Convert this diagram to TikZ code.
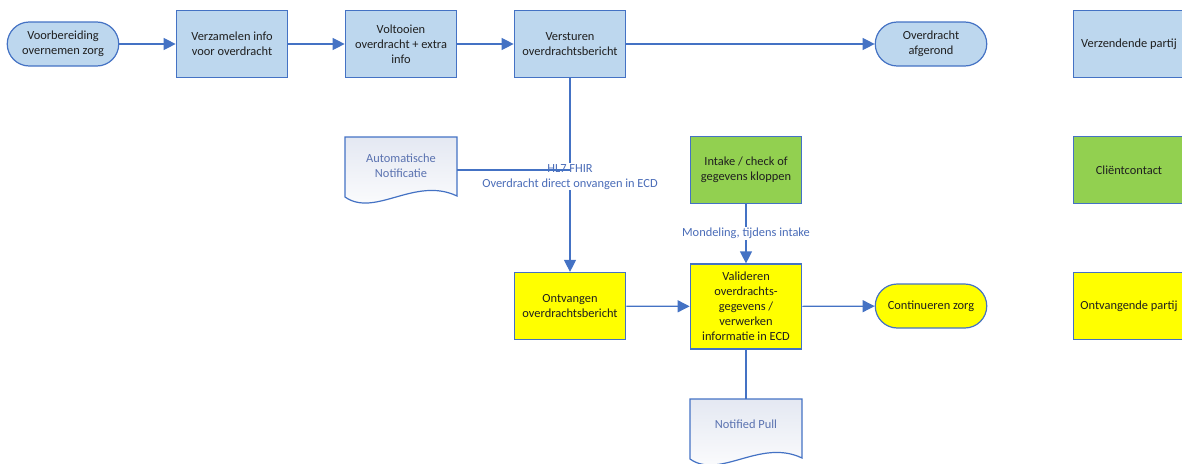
\documentclass[tikz,border=0pt]{standalone}
\usepackage{fontspec}
\setmainfont{Carlito}
\usetikzlibrary{arrows.meta,calc}
\definecolor{bfill}{HTML}{BDD7EE}
\definecolor{bline}{HTML}{4472C4}
\definecolor{gfill}{HTML}{92D050}
\definecolor{yfill}{HTML}{FFFF00}
\definecolor{txt}{HTML}{1F1F1F}
\definecolor{doctxt}{HTML}{5A72B0}
\definecolor{lbl}{HTML}{4A6CB8}
\definecolor{docgray}{HTML}{E4E8F2}
\newcommand\docpath[1]{\path[draw=bline, line width=1.2pt, top color=docgray, bottom color=white]
  ($(#1)+(-56,-29)$) -- ($(#1)+(56,-29)$) -- ($(#1)+(56,30)$)
  .. controls ($(#1)+(14,10)$) and ($(#1)+(-26,52)$) .. ($(#1)+(-56,31)$) -- cycle;}
\begin{document}
\begin{tikzpicture}[x=1pt,y=-1pt, font=\fontsize{12.4}{15}\selectfont,
  box/.style={draw=bline, line width=1.2pt, minimum width=111.5pt, minimum height=67pt, align=center, text=txt, inner sep=1pt},
  term/.style={draw=bline, line width=1.2pt, rounded corners=22pt, minimum width=111.5pt, minimum height=44pt, align=center, text=txt, inner sep=1pt},
  doc/.style={align=center, text=doctxt, inner sep=1pt},
  conn/.style={draw=bline, line width=1.2pt},
  arr/.style={conn, -{Triangle[length=12pt,width=12pt]}},
  lab/.style={text=lbl, fill=white, inner sep=1pt, align=center}]
\useasboundingbox (0,0) rectangle (1182,463);
\clip (0,0) rectangle (1182,463);
% top row
\node[term, fill=bfill] (start) at (63,44) {Voorbereiding\\overnemen zorg};
\node[box, fill=bfill] (verz) at (232,44) {Verzamelen info\\voor overdracht};
\node[box, fill=bfill] (volt) at (401,44) {Voltooien\\overdracht + extra\\info};
\node[box, fill=bfill] (verst) at (570,44) {Versturen\\overdrachtsbericht};
\node[term, fill=bfill] (afg) at (931,44) {Overdracht\\afgerond};
\node[box, fill=bfill] (zend) at (1129,44) {Verzendende partij};
% middle row
\coordinate (autoC) at (401,166);
\docpath{autoC}
\node[doc] (auto) at (autoC) {Automatische\\Notificatie};
\coordinate (autoE) at ($(autoC)+(56,4)$);
\node[box, fill=gfill] (intake) at (746,170) {Intake / check of\\gegevens kloppen};
\node[box, fill=gfill] (client) at (1129,170) {Cliëntcontact};
% bottom row
\node[box, fill=yfill] (ontv) at (570,306) {Ontvangen\\overdrachtsbericht};
\node[box, fill=yfill, minimum height=85pt] (valid) at (746,306.5) {Valideren\\overdrachts-\\gegevens /\\verwerken\\informatie in ECD};
\node[term, fill=yfill] (cont) at (931,306) {Continueren zorg};
\node[box, fill=yfill] (ontvp) at (1129,306) {Ontvangende partij};
\coordinate (npC) at (746,428);
\docpath{npC}
\node[doc] (np) at ($(npC)+(0,-4)$) {Notified Pull};
\coordinate (npT) at ($(npC)+(0,-29)$);
% connectors
\draw[arr] (start) -- (verz);
\draw[arr] (verz) -- (volt);
\draw[arr] (volt) -- (verst);
\draw[arr] (verst) -- (afg);
\draw[arr] (verst) -- node[lab, pos=0.51] {HL7 FHIR\\Overdracht direct onvangen in ECD} (ontv);
\draw[conn] (autoE) -- (autoE -| verst.south);
\draw[arr] (intake) -- node[lab] {Mondeling, tijdens intake} (valid);
\draw[arr] (ontv) -- (valid);
\draw[arr] (valid) -- (cont);
\draw[conn] (valid) -- (npT);
\end{tikzpicture}
\end{document}
